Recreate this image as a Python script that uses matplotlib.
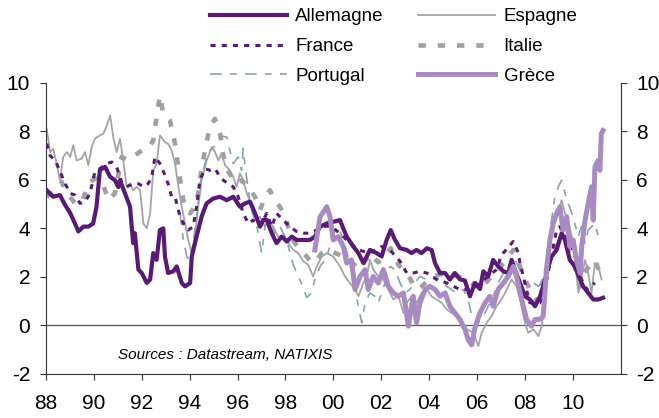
import matplotlib
matplotlib.use('Agg')
import matplotlib.pyplot as plt

plt.rcParams['font.family'] = ['Liberation Sans', 'DejaVu Sans']
plt.rcParams['axes.unicode_minus'] = False

# --- data (decimal years / %) ---
de_dates = [1988.03, 1988.30, 1988.58, 1988.80, 1989.01, 1989.21, 1989.35, 1989.56, 1989.77, 1989.97,
            1990.11, 1990.25, 1990.47, 1990.68, 1990.88, 1991.02, 1991.09, 1991.30, 1991.51, 1991.64,
            1991.71, 1991.86, 1992.00, 1992.21, 1992.35, 1992.48, 1992.62, 1992.76, 1992.90, 1992.97,
            1993.10, 1993.32, 1993.46, 1993.67, 1993.81, 1994.02, 1994.09, 1994.29, 1994.50, 1994.71,
            1994.99, 1995.27, 1995.55, 1995.82, 1995.96, 1996.10, 1996.32, 1996.52, 1996.73, 1996.94,
            1997.08, 1997.22, 1997.43, 1997.63, 1997.85, 1998.06, 1998.27, 1998.47, 1998.75, 1999.02,
            1999.23, 1999.45, 1999.73, 2000.28, 2000.56, 2000.84, 2001.05, 2001.26, 2001.40, 2001.53,
            2001.81, 2002.02, 2002.23, 2002.40, 2002.58, 2002.79, 2003.07, 2003.27, 2003.48, 2003.69,
            2003.91, 2004.11, 2004.25, 2004.46, 2004.67, 2004.87, 2005.08, 2005.29, 2005.50, 2005.71,
            2005.92, 2006.13, 2006.27, 2006.47, 2006.68, 2006.89, 2007.11, 2007.31, 2007.45, 2007.59,
            2007.80, 2008.01, 2008.21, 2008.43, 2008.64, 2008.85, 2008.98, 2009.12, 2009.33, 2009.54,
            2009.68, 2009.88, 2010.09, 2010.31, 2010.44, 2010.65, 2010.86, 2011.07, 2011.27]
de_vals = [5.57, 5.30, 5.37, 4.96, 4.63, 4.20, 3.87, 4.07, 4.07, 4.20,
           4.89, 6.40, 6.53, 6.12, 5.98, 5.70, 5.98, 5.44, 4.89, 3.39,
           3.80, 2.30, 2.16, 1.75, 1.89, 2.98, 2.70, 3.93, 4.00, 2.84,
           2.16, 2.23, 2.43, 1.75, 1.61, 1.75, 2.84, 3.66, 4.48, 5.03,
           5.23, 5.30, 5.16, 5.30, 5.10, 4.89, 5.03, 5.10, 4.63, 4.07,
           4.35, 4.35, 3.80, 3.39, 3.66, 3.46, 3.66, 3.52, 3.52, 3.52,
           3.66, 4.07, 4.20, 4.34, 3.66, 3.25, 2.98, 2.57, 2.84, 3.11,
           2.98, 2.84, 3.52, 3.93, 3.52, 3.18, 3.11, 2.98, 3.11, 2.98,
           3.18, 3.11, 2.57, 2.16, 2.16, 1.89, 2.16, 1.90, 1.85, 1.20,
           1.75, 1.50, 2.23, 2.02, 2.70, 2.43, 2.23, 2.16, 2.70, 2.30,
           1.75, 1.20, 1.07, 0.79, 1.20, 1.89, 2.43, 2.84, 3.11, 3.80,
           3.52, 2.70, 2.43, 1.89, 1.61, 1.34, 1.07, 1.07, 1.14]

es_dates = [1988.03, 1988.17, 1988.30, 1988.44, 1988.58, 1988.72, 1988.87, 1989.01, 1989.14, 1989.28,
            1989.49, 1989.63, 1989.77, 1989.91, 1990.04, 1990.25, 1990.40, 1990.54, 1990.68, 1990.81,
            1990.95, 1991.09, 1991.23, 1991.37, 1991.51, 1991.64, 1991.79, 1991.93, 1992.07, 1992.21,
            1992.35, 1992.48, 1992.62, 1992.76, 1992.97, 1993.10, 1993.25, 1993.39, 1993.53, 1993.67,
            1993.81, 1993.94, 1994.09, 1994.22, 1994.36, 1994.50, 1994.71, 1994.93, 1995.06, 1995.20,
            1995.34, 1995.48, 1995.68, 1995.82, 1995.96, 1996.10, 1996.24, 1996.39, 1996.60, 1996.80,
            1996.94, 1997.15, 1997.28, 1997.49, 1997.70, 1997.91, 1998.12, 1998.33, 1998.54, 1998.75,
            1998.95, 1999.16, 1999.31, 1999.52, 1999.73, 2000.00, 2000.28, 2000.49, 2000.69, 2000.91,
            2001.05, 2001.26, 2001.40, 2001.53, 2001.67, 2001.88, 2002.09, 2002.30, 2002.51, 2002.72,
            2002.93, 2003.07, 2003.27, 2003.48, 2003.69, 2003.91, 2004.11, 2004.32, 2004.53, 2004.74,
            2004.94, 2005.15, 2005.36, 2005.57, 2005.85, 2006.06, 2006.20, 2006.41, 2006.61, 2006.82,
            2007.03, 2007.25, 2007.45, 2007.66, 2007.80, 2008.01, 2008.14, 2008.36, 2008.57, 2008.71,
            2008.85, 2008.98, 2009.12, 2009.33, 2009.54, 2009.68, 2009.81, 2010.02, 2010.24, 2010.38,
            2010.52, 2010.65, 2010.79, 2010.93, 2011.07, 2011.21]
es_vals = [8.10, 7.14, 7.28, 6.67, 5.98, 6.94, 7.14, 6.94, 7.42, 6.80,
           6.87, 7.14, 6.60, 7.35, 7.69, 7.83, 7.90, 8.24, 8.65, 7.76,
           7.14, 7.69, 6.80, 5.71, 5.84, 5.57, 5.71, 5.57, 4.20, 4.00,
           4.62, 6.39, 6.67, 7.83, 7.55, 7.48, 7.21, 6.67, 5.71, 4.89,
           4.20, 3.52, 2.98, 3.66, 4.89, 5.98, 6.80, 7.35, 7.14, 6.80,
           7.07, 6.60, 6.39, 6.12, 5.71, 6.26, 5.98, 5.44, 4.89, 4.35,
           4.48, 4.07, 4.35, 4.07, 3.66, 3.66, 3.39, 3.11, 2.98, 2.64,
           2.50, 2.02, 2.43, 2.84, 2.98, 2.84, 2.43, 2.02, 1.75, 1.48,
           1.20, 1.75, 2.02, 2.70, 2.30, 2.02, 1.89, 1.48, 1.07, 1.20,
           0.52, 0.93, 1.20, 0.93, 1.34, 1.48, 1.20, 1.07, 0.93, 0.66,
           0.52, 0.38, 0.10, -0.16, -0.30, -0.85, -0.30, 0.11, 0.38, 0.79,
           1.07, 1.48, 1.89, 1.61, 1.07, 0.11, -0.30, -0.16, -0.44, -0.03,
           1.20, 2.98, 3.93, 4.48, 5.16, 4.62, 4.34, 3.39, 1.34, 2.02,
           2.70, 2.16, 1.34, 2.57, 2.43, 1.89]

fr_dates = [1988.03, 1988.17, 1988.37, 1988.58, 1988.73, 1989.01, 1989.21, 1989.42, 1989.63, 1989.84,
            1990.04, 1990.25, 1990.54, 1990.75, 1990.95, 1991.16, 1991.37, 1991.64, 1991.86, 1992.07,
            1992.27, 1992.42, 1992.55, 1992.76, 1992.97, 1993.10, 1993.25, 1993.39, 1993.60, 1993.81,
            1993.94, 1994.15, 1994.29, 1994.43, 1994.64, 1994.84, 1995.06, 1995.27, 1995.41, 1995.61,
            1995.82, 1996.03, 1996.24, 1996.45, 1996.66, 1996.94, 1997.22, 1997.43, 1997.63, 1997.91,
            1998.19, 1998.47, 1998.75, 1999.02, 1999.30, 1999.59, 1999.86, 2000.28, 2000.69, 2001.09,
            2001.53, 2002.02, 2002.37, 2002.79, 2003.07, 2003.34, 2003.62, 2003.91, 2004.32, 2004.74,
            2005.29, 2005.57, 2005.92, 2006.13, 2006.82, 2007.03, 2007.52, 2007.73, 2007.80, 2008.21,
            2008.64, 2008.92, 2009.33, 2009.47, 2009.75, 2010.09, 2010.31, 2010.58, 2010.93]
fr_vals = [7.49, 7.00, 6.80, 6.39, 5.98, 5.44, 5.37, 5.03, 5.10, 5.44,
           6.32, 6.46, 6.67, 6.73, 6.53, 5.91, 5.71, 5.84, 5.84, 5.71,
           5.84, 6.12, 6.94, 6.67, 6.19, 5.84, 5.30, 5.30, 4.48, 4.07,
           3.93, 4.07, 4.89, 5.98, 6.46, 6.39, 6.46, 6.12, 5.98, 5.84,
           5.71, 5.30, 4.62, 4.20, 4.34, 4.07, 4.62, 4.07, 4.62, 4.34,
           4.07, 3.87, 3.80, 3.80, 3.93, 4.07, 4.10, 3.80, 3.39, 3.10,
           2.98, 3.25, 3.11, 2.64, 2.16, 2.16, 2.23, 2.16, 1.89, 1.75,
           1.48, 1.48, 1.60, 1.75, 2.30, 2.90, 3.46, 3.00, 2.57, 0.93,
           0.93, 1.89, 3.93, 4.07, 3.52, 2.98, 2.02, 1.48, 1.75]

it_dates = [1988.03, 1988.30, 1988.65, 1988.94, 1989.21, 1989.49, 1989.77, 1990.04, 1990.32, 1990.61,
            1990.88, 1991.16, 1991.43, 1991.71, 1992.00, 1992.27, 1992.48, 1992.62, 1992.76, 1992.90,
            1993.18, 1993.39, 1993.53, 1993.67, 1993.81, 1994.02, 1994.22, 1994.36, 1994.50, 1994.64,
            1994.84, 1995.06, 1995.27, 1995.41, 1995.55, 1995.75, 1995.96, 1996.17, 1996.45, 1996.73,
            1996.94, 1997.15, 1997.35, 1997.56, 1997.77, 1997.99, 1998.19, 1998.40, 1998.61, 1998.89,
            1999.09, 1999.31, 1999.52, 1999.79, 2000.28, 2000.69, 2001.09, 2001.53, 2001.88, 2002.40,
            2002.72, 2003.10, 2003.48, 2003.69, 2004.11, 2004.67, 2005.29, 2005.71, 2006.13, 2006.61,
            2007.11, 2007.52, 2007.80, 2008.08, 2008.50, 2008.92, 2009.26, 2009.47, 2009.75, 2010.09,
            2010.31, 2010.58, 2010.93, 2011.20]
it_vals = [5.30, 5.50, 5.91, 5.37, 5.03, 5.03, 5.84, 6.05, 5.98, 5.16,
           5.44, 6.94, 6.80, 7.00, 7.21, 7.28, 7.62, 8.58, 9.47, 8.72,
           8.44, 7.49, 6.53, 5.57, 4.75, 4.62, 4.89, 5.44, 6.46, 7.21,
           8.17, 8.51, 7.90, 7.00, 6.46, 6.12, 5.84, 5.98, 5.71, 5.30,
           4.75, 5.30, 5.57, 5.16, 4.89, 4.48, 3.80, 3.39, 3.11, 2.84,
           2.57, 2.70, 2.98, 3.11, 2.90, 2.70, 2.30, 2.95, 2.60, 3.18,
           2.50, 2.10, 1.48, 1.60, 2.00, 2.16, 2.00, 1.80, 1.48, 2.02,
           2.57, 3.11, 2.43, 1.75, 1.00, 2.30, 3.10, 3.50, 3.25, 2.43,
           1.60, 2.30, 2.70, 2.00]

pt_dates = [1993.60, 1993.72, 1993.88, 1994.02, 1994.29, 1994.43, 1994.64, 1994.84, 1995.13, 1995.34,
            1995.55, 1995.68, 1995.82, 1996.03, 1996.17, 1996.24, 1996.32, 1996.45, 1996.60, 1996.80,
            1997.01, 1997.15, 1997.35, 1997.56, 1997.77, 1997.99, 1998.12, 1998.33, 1998.54, 1998.75,
            1998.89, 1999.09, 1999.23, 1999.45, 1999.73, 2000.00, 2000.21, 2000.42, 2000.62, 2000.84,
            2001.05, 2001.19, 2001.33, 2001.53, 2001.74, 2001.88, 2002.16, 2002.37, 2002.58, 2002.79,
            2003.00, 2003.20, 2003.41, 2003.62, 2003.91, 2004.18, 2004.46, 2004.74, 2004.94, 2005.15,
            2005.43, 2005.64, 2005.78, 2006.06, 2006.27, 2006.47, 2006.68, 2006.89, 2007.11, 2007.31,
            2007.52, 2007.73, 2007.94, 2008.14, 2008.36, 2008.57, 2008.77, 2008.98, 2009.12, 2009.26,
            2009.40, 2009.54, 2009.68, 2009.81, 2010.02, 2010.23, 2010.37, 2010.52, 2010.65, 2010.79,
            2010.93, 2011.07, 2011.21]
pt_vals = [4.62, 3.66, 2.84, 2.70, 4.35, 5.84, 6.67, 7.21, 7.45, 7.80,
           7.76, 7.21, 6.67, 6.94, 6.39, 7.30, 6.53, 5.57, 4.70, 4.15,
           2.98, 4.10, 4.34, 3.80, 4.07, 3.66, 3.25, 2.50, 2.02, 1.55,
           1.15, 1.34, 1.89, 2.43, 2.80, 3.80, 4.07, 3.52, 2.84, 1.89,
           0.79, 0.11, 0.93, 1.34, 1.20, 0.93, 1.75, 2.43, 2.30, 1.75,
           1.34, 1.48, 1.75, 2.02, 1.89, 2.02, 1.89, 1.61, 1.48, 1.34,
           1.48, 1.07, 0.38, 0.10, 0.38, 0.79, 1.20, 1.75, 2.16, 2.43,
           2.84, 2.43, 1.89, 1.61, 1.75, 1.61, 1.89, 3.11, 4.34, 5.30,
           5.71, 5.98, 5.44, 5.03, 4.48, 3.66, 4.07, 3.39, 3.93, 4.07,
           4.20, 3.66, 3.73]

gr_dates = [1999.23, 1999.45, 1999.73, 1999.86, 2000.00, 2000.21, 2000.42, 2000.56, 2000.76, 2000.91,
            2001.12, 2001.33, 2001.46, 2001.67, 2001.88, 2002.09, 2002.30, 2002.51, 2002.72, 2002.93,
            2003.14, 2003.34, 2003.48, 2003.62, 2003.84, 2004.04, 2004.25, 2004.46, 2004.67, 2004.87,
            2005.08, 2005.29, 2005.50, 2005.64, 2005.78, 2005.92, 2006.13, 2006.34, 2006.54, 2006.68,
            2006.89, 2007.11, 2007.31, 2007.52, 2007.66, 2007.87, 2008.08, 2008.28, 2008.43, 2008.64,
            2008.77, 2008.92, 2009.05, 2009.19, 2009.33, 2009.47, 2009.60, 2009.75, 2009.88, 2010.02,
            2010.16, 2010.31, 2010.38, 2010.52, 2010.65, 2010.79, 2010.86, 2010.93, 2011.07, 2011.14,
            2011.20, 2011.27]
gr_vals = [3.11, 4.48, 4.89, 4.48, 3.52, 3.66, 3.25, 2.57, 2.70, 1.48,
           2.02, 2.30, 1.48, 2.02, 1.75, 2.30, 1.61, 1.34, 1.20, 1.34,
           -0.03, 1.20, 0.11, 0.93, 1.48, 1.61, 1.48, 1.20, 1.34, 0.79,
           0.52, 0.25, -0.16, -0.60, -0.80, -0.10, 0.52, 0.93, 1.20, 0.79,
           1.48, 1.75, 2.02, 2.43, 2.02, 1.07, 0.25, -0.03, 0.25, 0.25,
           0.38, 2.43, 3.52, 4.20, 4.62, 4.89, 3.93, 4.48, 3.25, 3.52,
           2.70, 2.16, 3.25, 4.34, 5.03, 5.71, 4.34, 6.53, 6.80, 6.39,
           7.90, 8.03]

year_ticks = list(range(1988, 2011, 2))
year_labels = ['%02d' % (y % 100) for y in year_ticks]
y_ticks = [-2, 0, 2, 4, 6, 8, 10]

purple = '#581a76'
grey = '#a4a4a4'

fig = plt.figure(figsize=(6.59, 4.18), dpi=100)
ax = fig.add_axes([0.0698, 0.1053, 0.8718, 0.6969])

ax.axhline(0, color='#555555', lw=0.9, zorder=1)

l_es, = ax.plot(es_dates, es_vals, color=grey, lw=1.3, label='Espagne', zorder=2)
l_it, = ax.plot(it_dates, it_vals, color='#a0a0a0', lw=3.3, dashes=(1.6, 2.6),
                dash_capstyle='butt', label='Italie', zorder=2)
l_pt, = ax.plot(pt_dates, pt_vals, color='#86a2b1', lw=1.2, dashes=(7, 5, 4, 5),
                label='Portugal', zorder=3)
l_fr, = ax.plot(fr_dates, fr_vals, color=purple, lw=2.2, dashes=(1.67, 2.0),
                dash_capstyle='butt', label='France', zorder=3)
l_de, = ax.plot(de_dates, de_vals, color=purple, lw=3.0, label='Allemagne', zorder=4)
l_gr, = ax.plot(gr_dates, gr_vals, color='#a98bc4', lw=3.6, label='Grèce', zorder=5)

ax.set_xlim(1988, 2012)
ax.set_ylim(-2, 10)
ax.set_xticks(year_ticks)
ax.set_xticklabels(year_labels)
ax.set_yticks(y_ticks)
ax.set_yticklabels([str(v) for v in y_ticks])

ax.spines['top'].set_visible(False)
for s in ['left', 'right', 'bottom']:
    ax.spines[s].set_color('#333333')
    ax.spines[s].set_linewidth(0.8)

ax.tick_params(axis='both', direction='out', length=4.5, width=0.8, color='#333333',
               labelsize=15)
ax.tick_params(axis='x', pad=10)
ax.tick_params(axis='y', pad=7, right=True, labelright=True)

ax.text(0.125, 0.065, 'Sources : Datastream, NATIXIS', transform=ax.transAxes,
        style='italic', fontsize=11, va='center', ha='left')

# legend laid out column by column, so order is col 1 then col 2
handles = [l_de, l_fr, l_pt, l_es, l_it, l_gr]
fig.legend(handles=handles, labels=[h.get_label() for h in handles], ncol=2,
           loc='upper left', bbox_to_anchor=(210 / 659, 0.98), frameon=False,
           fontsize=13.5, handlelength=4.1, handletextpad=0.45, columnspacing=1.84,
           labelspacing=0.67, borderpad=0, borderaxespad=0)

fig.savefig('out.png', dpi=100)
